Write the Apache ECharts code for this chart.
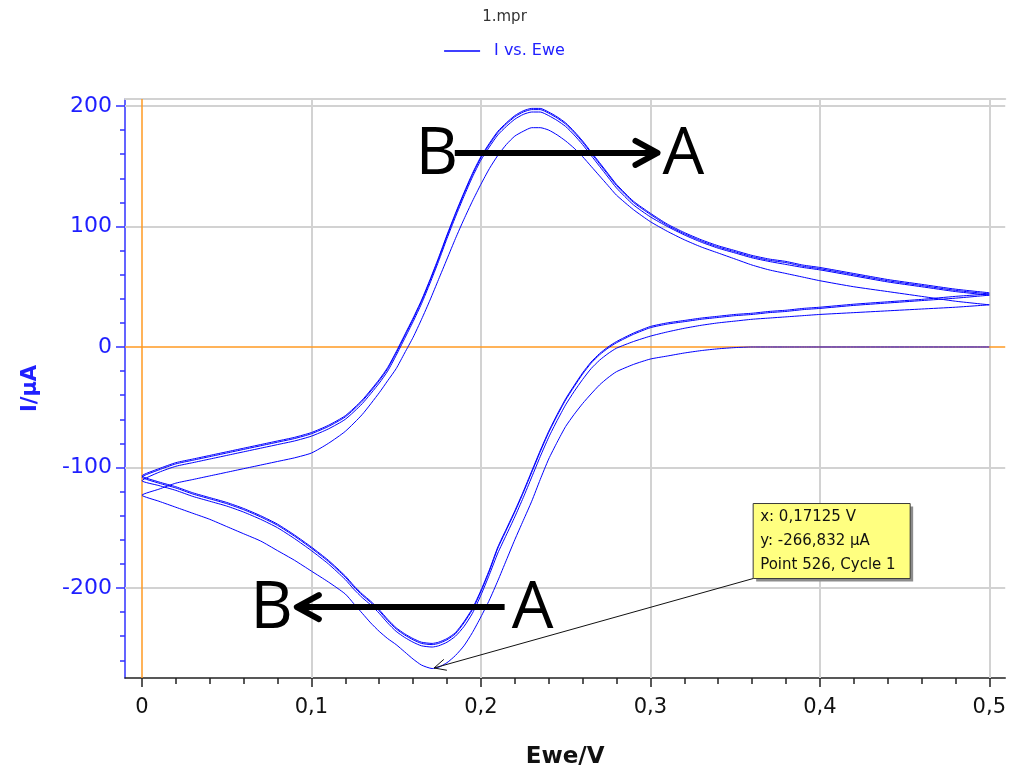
<!DOCTYPE html>
<html>
<head>
<meta charset="utf-8">
<title>1.mpr</title>
<script src="https://cdn.jsdelivr.net/npm/echarts@6/dist/echarts.min.js"></script>
<style>
  html, body { margin: 0; padding: 0; background: #ffffff; }
  #chart { width: 1009px; height: 774px; }
</style>
</head>
<body>
<div id="chart"></div>
<script>
// Potential grids (V): anodic sweep 0 -> 0.5, cathodic sweep 0.5 -> 0
const anodicE = [0, 0.01, 0.02, 0.03, 0.04, 0.05, 0.06, 0.07, 0.08, 0.09,
  0.1, 0.11, 0.12, 0.13, 0.14, 0.145, 0.15, 0.155, 0.16, 0.165,
  0.17, 0.175, 0.18, 0.185, 0.19, 0.195, 0.2, 0.205, 0.21, 0.215,
  0.22, 0.225, 0.23, 0.235, 0.24, 0.245, 0.25, 0.255, 0.26, 0.265,
  0.27, 0.275, 0.28, 0.29, 0.3, 0.31, 0.32, 0.33, 0.34, 0.35,
  0.36, 0.37, 0.38, 0.39, 0.4, 0.42, 0.44, 0.46, 0.48, 0.5];

const cathodicE = [0.5, 0.48, 0.46, 0.44, 0.42, 0.4, 0.39, 0.38, 0.37, 0.36,
  0.35, 0.34, 0.33, 0.32, 0.31, 0.3, 0.29, 0.28, 0.275, 0.27,
  0.265, 0.26, 0.255, 0.25, 0.245, 0.24, 0.235, 0.23, 0.225, 0.22,
  0.215, 0.21, 0.205, 0.2, 0.195, 0.19, 0.185, 0.18, 0.175, 0.17125,
  0.165, 0.16, 0.155, 0.15, 0.145, 0.14, 0.135, 0.13, 0.125, 0.12,
  0.11, 0.1, 0.09, 0.08, 0.07, 0.06, 0.05, 0.04, 0.03, 0.02,
  0.01, 0];

// Current (µA) per cycle and sweep direction
const cycle1Cathodic = [0, 0, 0, 0, 0, 0, 0, 0, 0, 0,
  -0.5, -1.5, -3, -5, -7.5, -10, -14.5, -20.5, -25.5, -31.5,
  -39, -47, -56, -66, -79, -93, -110, -128, -144, -160,
  -177, -194, -210, -224, -237, -248, -256, -262, -265.8, -266.832,
  -264, -259, -253, -247, -242, -236, -229, -221, -213, -205,
  -195, -186, -177, -169, -161, -155, -149, -143, -138, -133,
  -128, -123];
const cycle1Anodic = [-123, -118, -113, -110, -107, -104, -101, -98, -95, -92,
  -88, -80, -70, -56, -38, -28, -18, -5, 8, 23,
  39, 56, 73, 90, 106, 121, 135, 148, 159, 168,
  175, 179, 182, 182, 180, 176, 171, 165, 158, 150,
  142, 134, 126, 114, 104, 96, 89, 83, 78, 73,
  68, 64, 61, 58, 55, 50, 46, 42, 38, 35];

const cycle2Cathodic = [35, 33, 31.5, 30, 28.5, 27, 26, 25, 24, 23,
  21.5, 20, 18, 15.5, 12.5, 9, 4.5, -1, -5.5, -11,
  -18, -27, -37, -48, -61, -75, -91, -108, -125, -141,
  -156, -171, -189, -206, -221, -232, -240, -245, -248, -249,
  -248, -245, -241, -236, -229, -221, -214, -208, -201, -193,
  -180, -169, -159, -150, -143, -137, -132, -128, -124, -119,
  -115, -111];
const cycle2Anodic = [-111, -104, -99, -96, -93, -90, -87, -84, -81, -78,
  -74, -68, -60, -47, -30, -20, -7, 7, 21, 36,
  53, 71, 90, 108, 125, 141, 155, 166, 176, 183,
  189, 193, 195, 195, 192, 188, 183, 176, 168, 159,
  150, 141, 132, 118, 108, 100, 93, 87, 82, 78,
  74, 71, 68.5, 66, 64, 59, 54, 50, 46, 43];

const cycle3Cathodic = [43, 40.5, 38.5, 36.5, 34.5, 32, 31, 29.5, 28.5, 27,
  26, 24.5, 23, 21, 19, 16, 10.5, 3.5, -1, -6.5,
  -13.5, -22.5, -33, -44, -57, -71, -87, -104, -121, -137,
  -152, -167, -186, -203, -218, -229, -238, -243, -246, -247,
  -246, -243, -239, -234, -227, -219, -212, -206, -199, -191,
  -178, -167, -157, -148, -141, -135, -130, -126, -122, -117,
  -113, -108];
const cycle3Anodic = [-108, -102, -97, -94, -91, -88, -85, -82, -79, -76,
  -72, -66, -58, -45, -28, -18, -5, 9, 23, 38,
  55, 73, 92, 110, 127, 143, 157, 168, 178, 185,
  191, 195, 197, 197, 194, 190, 185, 178, 170, 161,
  152, 143, 134, 120, 110, 101, 94, 88, 83, 79,
  75, 72, 70, 67, 65, 60, 55, 51, 47, 44];

const cycle4Cathodic = [44, 42, 39.5, 37.5, 35.5, 33, 32, 30.5, 29.5, 28,
  27, 25.5, 24, 22, 20, 17, 11.5, 4.5, 0, -5.5,
  -12.5, -21.5, -32, -43, -56, -70, -86, -103, -120, -136,
  -151, -166, -185, -202, -217, -228, -237, -242, -245, -246,
  -245, -242, -238, -233, -226, -218, -211, -205, -198, -190,
  -177, -166, -156, -147, -140, -134, -129, -125, -121, -116,
  -112, -107];
const cycle4Anodic = [-107, -101, -96, -93, -90, -87, -84, -81, -78, -75,
  -71, -65, -57, -44, -27, -17, -4, 10, 24, 39,
  56, 74, 93, 111, 128, 144, 158, 169, 179, 186,
  192, 196, 198, 198, 195, 191, 186, 179, 171, 162,
  153, 144, 135, 121, 111, 102, 95, 89, 84, 80,
  76, 73, 71, 68, 66, 61, 56, 52, 48, 45];

// Axis ticks
const xMajorTicks = [0, 0.1, 0.2, 0.3, 0.4, 0.5];
const xMinorTicks = [0.02, 0.04, 0.06, 0.08, 0.12, 0.14, 0.16, 0.18, 0.22, 0.24,
  0.26, 0.28, 0.32, 0.34, 0.36, 0.38, 0.42, 0.44, 0.46, 0.48];
const yMajorTicks = [-200, -100, 0, 100, 200];
const yMinorTicks = [-260, -240, -220, -180, -160, -140, -120, -80, -60, -40, -20,
  20, 40, 60, 80, 120, 140, 160, 180];

// Picked point shown in the info box
const pickedPoint = { E: cathodicE[39], I: cycle1Cathodic[39], point: 526, cycle: 1 };

// Texts
const titleText = '1.mpr';
const legendText = 'I vs. Ewe';
const xName = 'Ewe/V';
const yName = 'I/µA';

// Scan direction annotations (data coordinates)
const scanArrows = [
  { from: [0.1846, 161], to: [0.3042, 161], fromLabel: 'B', fromAt: [0.174, 161], toLabel: 'A', toAt: [0.3195, 161] },
  { from: [0.214, -215.8], to: [0.0914, -215.8], fromLabel: 'A', fromAt: [0.2305, -215.8], toLabel: 'B', toAt: [0.0765, -215.8] }
];

const X_MIN = -0.01, X_MAX = 0.5094;
const Y_MIN = -274.7, Y_MAX = 205.8;

const BLUE = '#0000ff';
const AXIS_BLUE = '#3030ff';
const GRID_GRAY = '#d2d2d2';
const ORANGE = '#ff9a22';

const comma = v => String(v).replace('.', ',');
const pairs = (es, is) => es.map((e, i) => [e, is[i]]);

const cycles = [
  [cycle1Cathodic, cycle1Anodic],
  [cycle2Cathodic, cycle2Anodic],
  [cycle3Cathodic, cycle3Anodic],
  [cycle4Cathodic, cycle4Anodic]
];

const curveSeries = cycles.map(([cath, anod]) => ({
  name: legendText,
  type: 'line',
  data: pairs(cathodicE, cath).concat(pairs(anodicE, anod)),
  showSymbol: false,
  symbol: 'none',
  smooth: 0.2,
  lineStyle: { color: BLUE, width: 1 },
  itemStyle: { color: BLUE },
  z: 5,
  silent: true,
  animation: false
}));

const refLine = (data, color, width, z) => ({
  type: 'line',
  data: [[0, 0]],
  symbol: 'none',
  lineStyle: { opacity: 0 },
  silent: true,
  animation: false,
  z: z,
  markLine: {
    symbol: ['none', 'none'],
    silent: true,
    animation: false,
    label: { show: false },
    emphasis: { disabled: true },
    lineStyle: { color: color, width: width, type: 'solid' },
    data: data
  }
});

const gridData = xMajorTicks.filter(v => v !== 0).map(v => ({ xAxis: v }))
  .concat(yMajorTicks.filter(v => v !== 0).map(v => ({ yAxis: v })));

const chart = echarts.init(document.getElementById('chart'), null, { renderer: 'canvas' });

const option = {
  animation: false,
  backgroundColor: '#ffffff',
  title: {
    text: titleText,
    left: 'center',
    top: 5,
    textStyle: { fontSize: 15, fontWeight: 'normal', color: '#333333', fontFamily: 'DejaVu Sans' }
  },
  legend: {
    data: [legendText],
    left: 'center',
    top: 38,
    icon: 'rect',
    itemWidth: 36,
    itemHeight: 1.5,
    selectedMode: false,
    textStyle: { color: '#2020ff', fontSize: 16, fontFamily: 'DejaVu Sans', padding: [0, 0, 0, 9] }
  },
  tooltip: { show: false },
  grid: { left: 125, right: 3, top: 99, bottom: 96, containLabel: false },
  xAxis: [
    {
      type: 'value', position: 'bottom', min: X_MIN, max: X_MAX,
      name: xName, nameLocation: 'middle', nameGap: 68,
      nameTextStyle: { color: '#111111', fontSize: 23, fontWeight: 'bold', fontFamily: 'DejaVu Sans' },
      axisLine: { show: true, onZero: false, lineStyle: { color: '#222222', width: 1.5 } },
      axisTick: { show: true, customValues: xMajorTicks, length: 9, lineStyle: { color: '#222222', width: 1.5 } },
      axisLabel: {
        customValues: xMajorTicks, margin: 19, color: '#111111', fontSize: 21, fontFamily: 'DejaVu Sans',
        formatter: v => (v === 0 ? '0' : v.toFixed(1).replace('.', ','))
      },
      splitLine: { show: false }
    },
    {
      type: 'value', position: 'bottom', min: X_MIN, max: X_MAX,
      axisLine: { show: false, onZero: false },
      axisTick: { show: true, customValues: xMinorTicks, length: 6, lineStyle: { color: '#222222', width: 1.5 } },
      axisLabel: { show: false },
      splitLine: { show: false }
    },
    {
      type: 'value', position: 'top', min: X_MIN, max: X_MAX,
      axisLine: { show: true, onZero: false, lineStyle: { color: GRID_GRAY, width: 2 } },
      axisTick: { show: false },
      axisLabel: { show: false },
      splitLine: { show: false }
    }
  ],
  yAxis: [
    {
      type: 'value', position: 'left', min: Y_MIN, max: Y_MAX,
      name: yName, nameLocation: 'middle', nameGap: 84, nameRotate: 90,
      nameTextStyle: { color: '#2020ff', fontSize: 21, fontWeight: 'bold', fontFamily: 'DejaVu Sans' },
      axisLine: { show: true, onZero: false, lineStyle: { color: AXIS_BLUE, width: 1.5 } },
      axisTick: { show: true, customValues: yMajorTicks, length: 9, lineStyle: { color: AXIS_BLUE, width: 1.5 } },
      axisLabel: { customValues: yMajorTicks, margin: 13, color: '#1f1fff', fontSize: 22, fontFamily: 'DejaVu Sans' },
      splitLine: { show: false }
    },
    {
      type: 'value', position: 'left', min: Y_MIN, max: Y_MAX,
      axisLine: { show: false, onZero: false },
      axisTick: { show: true, customValues: yMinorTicks, length: 5, lineStyle: { color: AXIS_BLUE, width: 1.5 } },
      axisLabel: { show: false },
      splitLine: { show: false }
    }
  ],
  series: [
    refLine(gridData, GRID_GRAY, 2, 1),
    refLine([{ xAxis: 0 }, { yAxis: 0 }], ORANGE, 1.5, 2)
  ].concat(curveSeries)
};

chart.setOption(option);

// Annotations placed from data coordinates
const px = p => chart.convertToPixel({ xAxisIndex: 0, yAxisIndex: 0 }, p);
const graphics = [];

scanArrows.forEach(a => {
  const s = px(a.from), t = px(a.to);
  const dir = Math.sign(t[0] - s[0]);
  graphics.push({
    type: 'line', z: 20, silent: true,
    shape: { x1: s[0], y1: s[1], x2: t[0] - dir * 2, y2: t[1] },
    style: { stroke: '#000000', lineWidth: 6 }
  });
  graphics.push({
    type: 'polyline', z: 20, silent: true,
    shape: { points: [[t[0] - dir * 22, t[1] - 12], [t[0], t[1]], [t[0] - dir * 22, t[1] + 12]] },
    style: { stroke: '#000000', lineWidth: 6, fill: null, lineCap: 'round', lineJoin: 'round' }
  });
  [[a.fromLabel, a.fromAt], [a.toLabel, a.toAt]].forEach(([txt, at]) => {
    const p = px(at);
    graphics.push({
      type: 'text', z: 21, silent: true,
      style: { text: txt, x: p[0], y: p[1] + 2, fill: '#000000', font: '66px "Open Sans"', align: 'center', verticalAlign: 'middle' }
    });
  });
});

// Info box for the picked point
const P = px([pickedPoint.E, pickedPoint.I]);
const box = { x: P[0] + 321, y: P[1] - 165, w: 157, h: 75 };
const boxLines = [
  'x: ' + comma(pickedPoint.E) + ' V',
  'y: ' + comma(pickedPoint.I) + ' µA',
  'Point ' + pickedPoint.point + ', Cycle ' + pickedPoint.cycle
];
graphics.push({
  type: 'rect', z: 22, silent: true,
  shape: { x: box.x + 3, y: box.y + 3, width: box.w, height: box.h },
  style: { fill: '#8c8c8c' }
});
graphics.push({
  type: 'rect', z: 23, silent: true,
  shape: { x: box.x, y: box.y, width: box.w, height: box.h },
  style: { fill: '#ffff80', stroke: '#3a3a3a', lineWidth: 1 }
});
boxLines.forEach((t, i) => {
  graphics.push({
    type: 'text', z: 24, silent: true,
    style: { text: t, x: box.x + 7, y: box.y + 14 + i * 24, fill: '#111111', font: '15px "DejaVu Sans"', align: 'left', verticalAlign: 'middle' }
  });
});
const L0 = [box.x, box.y + box.h];
const dx = L0[0] - P[0], dy = L0[1] - P[1];
const len = Math.sqrt(dx * dx + dy * dy);
const ux = dx / len, uy = dy / len;
const rot = (ang) => [ux * Math.cos(ang) - uy * Math.sin(ang), ux * Math.sin(ang) + uy * Math.cos(ang)];
const h1 = rot(0.45), h2 = rot(-0.45);
graphics.push({
  type: 'line', z: 22, silent: true,
  shape: { x1: L0[0], y1: L0[1], x2: P[0] + 2 * ux, y2: P[1] + 2 * uy },
  style: { stroke: '#111111', lineWidth: 1 }
});
graphics.push({
  type: 'polyline', z: 22, silent: true,
  shape: { points: [[P[0] + 2 * ux + 13 * h1[0], P[1] + 2 * uy + 13 * h1[1]], [P[0] + 2 * ux, P[1] + 2 * uy], [P[0] + 2 * ux + 13 * h2[0], P[1] + 2 * uy + 13 * h2[1]]] },
  style: { stroke: '#111111', lineWidth: 1, fill: null }
});

chart.setOption({ graphic: graphics });
</script>
</body>
</html>
